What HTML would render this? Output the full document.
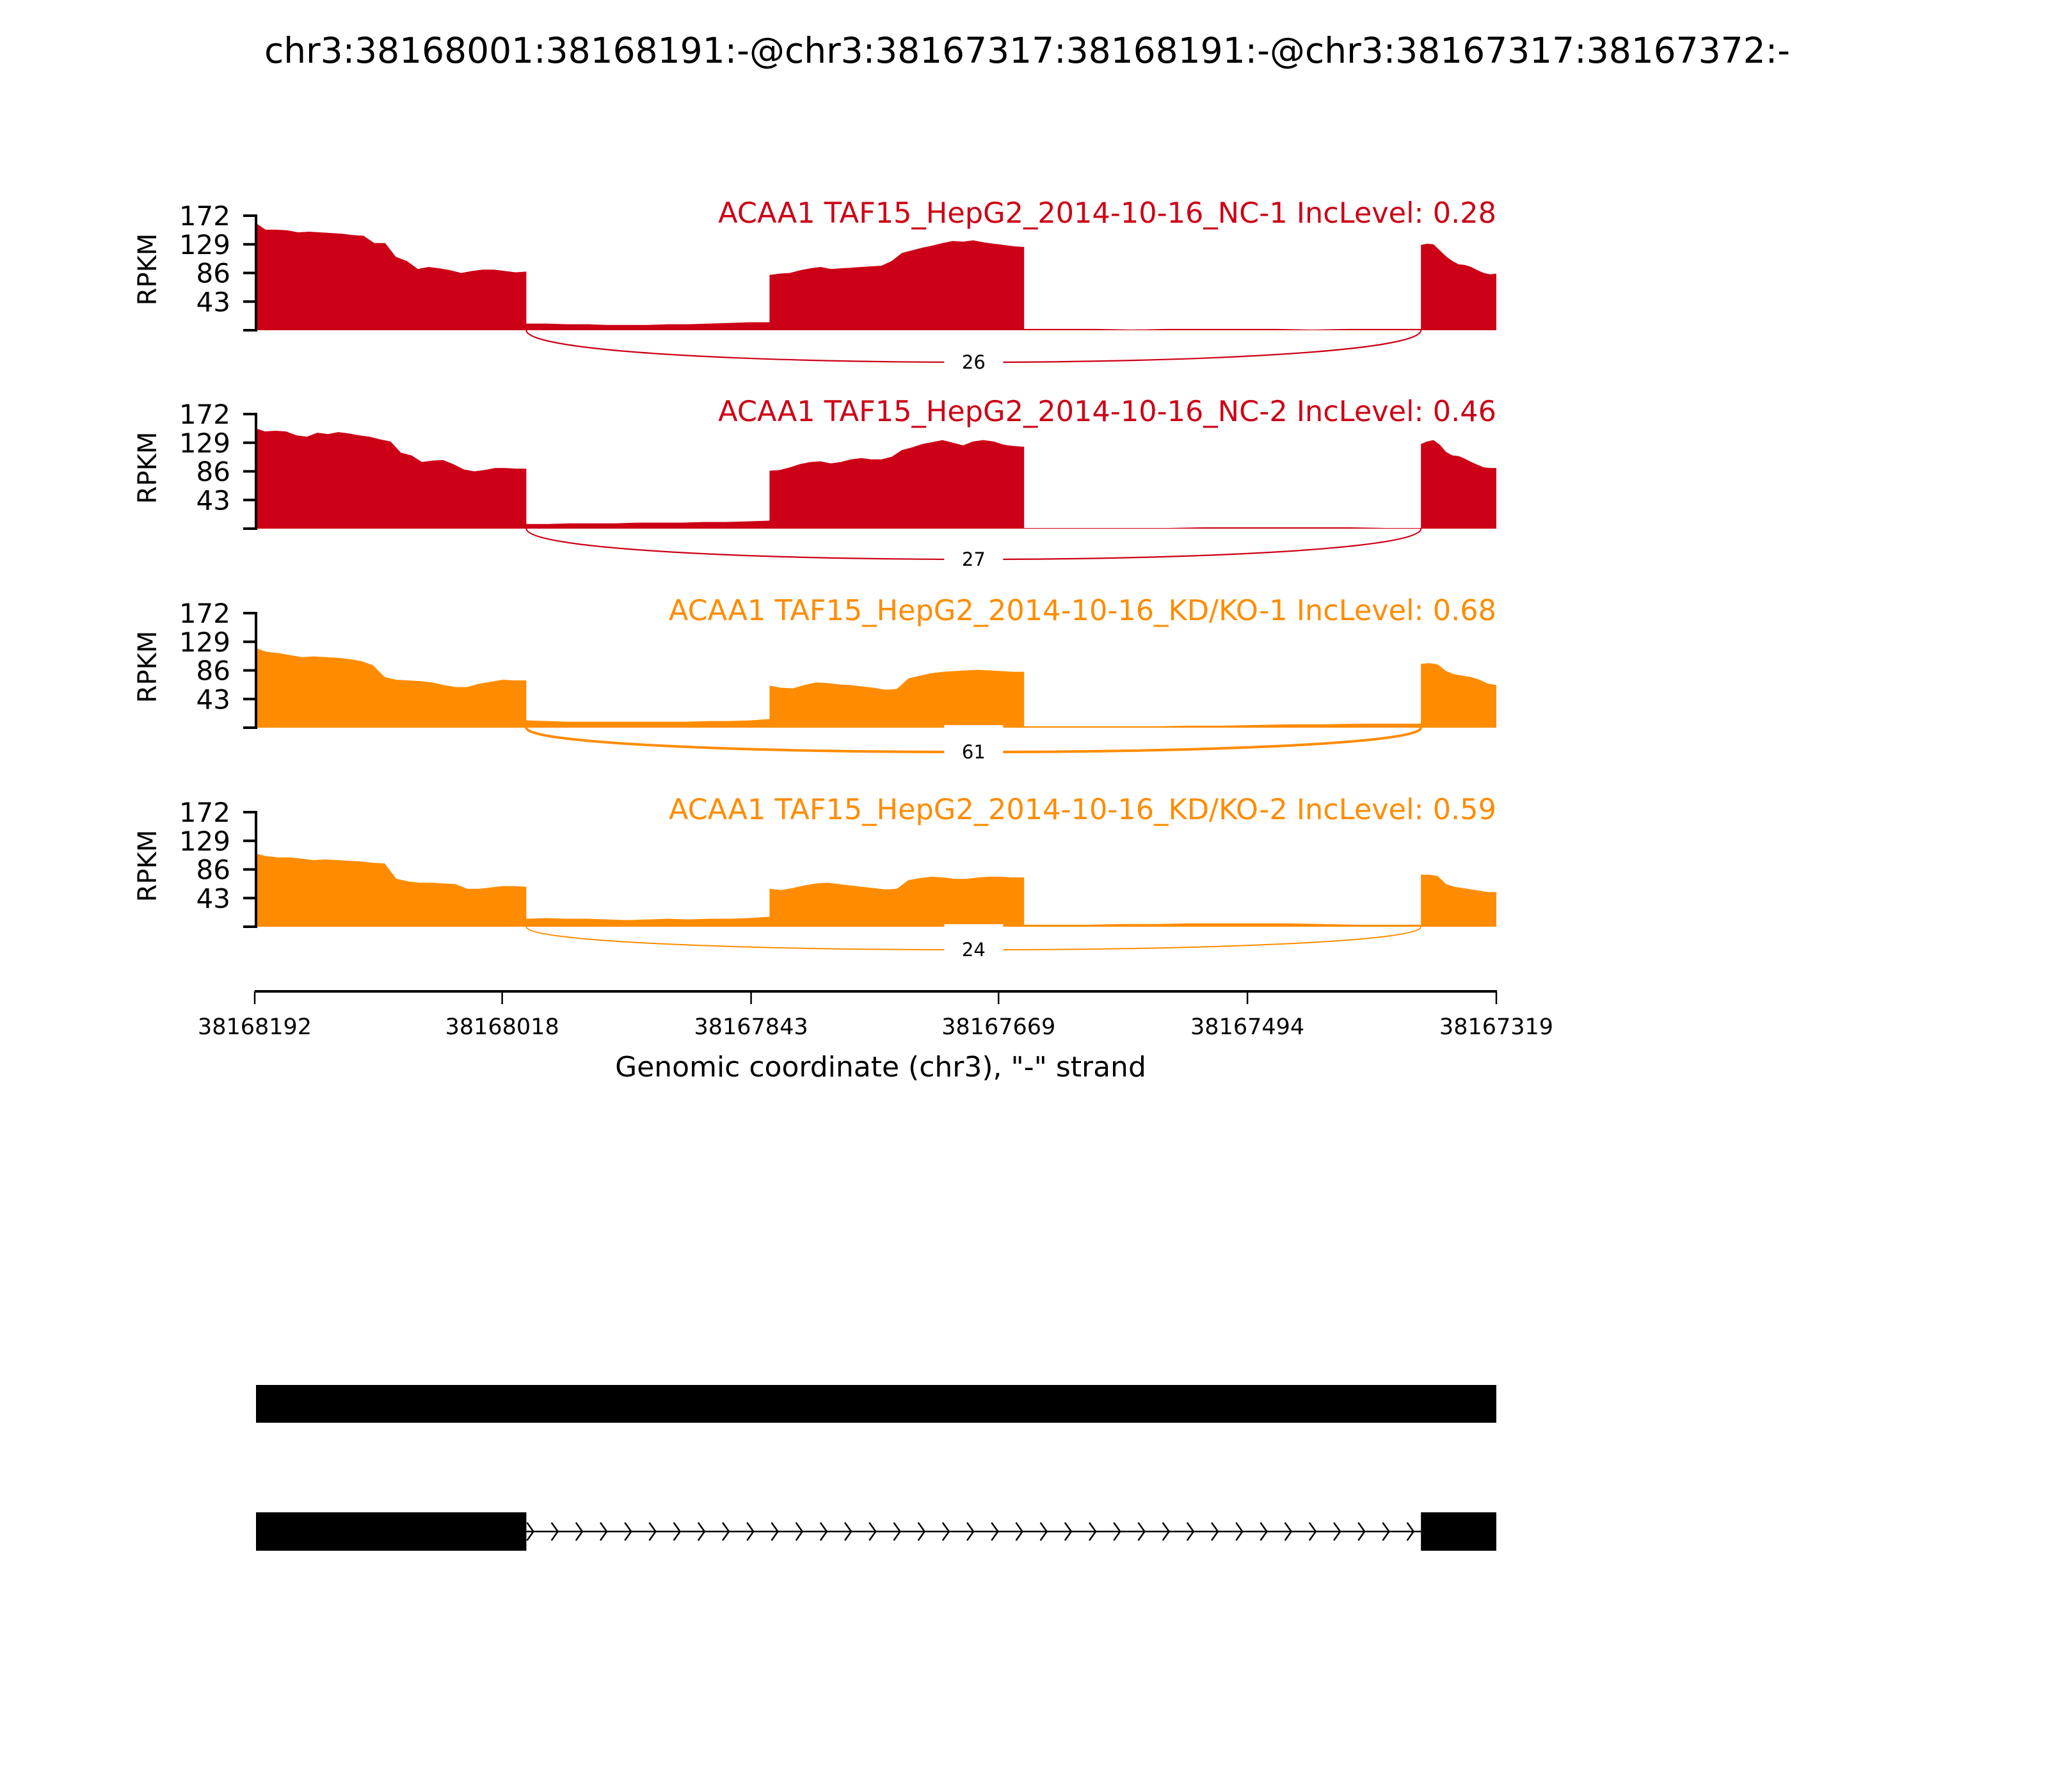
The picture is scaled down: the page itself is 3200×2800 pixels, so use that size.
<!DOCTYPE html>
<html><head><meta charset="utf-8">
<style>
html,body{margin:0;padding:0;background:#fff;}
svg{display:block;font-family:"DejaVu Sans","Liberation Sans",sans-serif;}
</style></head>
<body>
<svg id="chart" width="3200" height="2800" viewBox="0 0 3200 2800" xmlns="http://www.w3.org/2000/svg">
<rect width="3200" height="2800" fill="#fff"/>
<text x="1605" y="98" font-size="55" text-anchor="middle">chr3:38168001:38168191:-@chr3:38167317:38168191:-@chr3:38167317:38167372:-</text>
<g id="panels"></g>
<g id="xaxis"></g>
<g id="genes"></g>
</svg>
<script>
// ---- data ----
const sampleNames = ["ACAA1 TAF15_HepG2_2014-10-16_NC-1 IncLevel: 0.28","ACAA1 TAF15_HepG2_2014-10-16_NC-2 IncLevel: 0.46","ACAA1 TAF15_HepG2_2014-10-16_KD/KO-1 IncLevel: 0.68","ACAA1 TAF15_HepG2_2014-10-16_KD/KO-2 IncLevel: 0.59"];
const sampleColors = ["#CC0016","#CC0016","#FF8C00","#FF8C00"];
const junctionCounts = [26,27,61,24];
const yTicks = [0,43,86,129,172];
const regionBounds = [[38168192,38168001],[38168001,38167830],[38167830,38167651],[38167651,38167372],[38167372,38167319]];
const xTickLabels = [38168192,38168018,38167843,38167669,38167494,38167319];
const junctionStart = 38168001;
const junctionEnd = 38167372;
const cov1 = [
 [162,151,151,150,147,148,147,146,145,143,142,131,131,110,104,92,95,93,90,86,89,91,91,89,87,88],
 [10,10,9,9,8,8,8,9,9,10,11,12,12],
 [83,85,86,90,93,95,92,93,94,95,96,97,104,116,120,124,127,131,134,133,135,132,130,128,126,125],
 [2,2,2,1,2,2,2,2,1,2,2,2],
 [128,130,129,120,111,104,99,98,95,90,86,84,85]];
const cov2 = [
 [151,146,147,146,140,138,144,142,145,143,140,138,134,131,114,110,100,102,103,97,89,86,88,91,91,90,90],
 [7,7,8,8,8,9,9,9,10,10,11,12],
 [87,88,92,97,100,101,98,100,104,106,104,104,108,118,122,127,130,133,129,125,131,133,131,126,124,123],
 [1,1,1,1,1,2,2,2,2,2,1,1],
 [127,131,133,126,115,110,109,105,100,96,92,91,91]];
const cov3 = [
 [120,114,112,109,106,107,106,105,103,100,94,76,72,71,70,68,64,61,61,66,69,72,71,71],
 [11,10,9,9,9,9,9,9,9,10,10,11,13],
 [63,60,59,64,68,67,65,64,62,60,57,58,74,78,82,84,85,86,87,86,85,84,84],
 [2,2,2,2,2,3,3,4,5,5,6,6,6],
 [96,97,95,85,80,78,76,72,66,64]];
const cov4 = [
 [110,106,104,104,102,100,101,100,99,98,96,95,72,68,66,66,65,64,57,57,59,61,61,60],
 [12,13,12,12,11,10,11,12,11,12,12,13,15],
 [57,55,58,62,65,66,64,62,60,58,56,57,70,73,75,74,72,72,74,75,75,74,74],
 [3,3,3,4,4,5,5,5,5,4,3,3,3],
 [78,78,76,64,60,58,56,54,52,52]];
const coverages = [cov1,cov2,cov3,cov4];

// ---- layout ----
const NS="http://www.w3.org/2000/svg";
const X0=398, X1=2338, G0=38168192, G1=38167319;
const xs = g => X0 + (G0-g)*(X1-X0)/(G0-G1);
const baselines=[516,826,1137,1448];
const PH=179, YMAX=172;
const arcDepth=[50,48,38,36];
const arcWidth=[2.2,2.2,4,2];
function mk(tag,attrs,parent){const e=document.createElementNS(NS,tag);for(const k in attrs)e.setAttribute(k,attrs[k]);parent.appendChild(e);return e;}
const panels=document.getElementById('panels');
coverages.forEach((cov,i)=>{
  const b=baselines[i];
  const ys=v=>b - v/YMAX*PH;
  const g=mk('g',{},panels);
  
  
  let pts=[[xs(regionBounds[0][0]),b]];
  cov.forEach((vals,r)=>{
    const a=xs(regionBounds[r][0]), e=xs(regionBounds[r][1]);
    vals.forEach((v,k)=>{pts.push([a+(e-a)*k/(vals.length-1), ys(v)]);});
  });
  pts.push([X1,b]);
  const area=mk('path',{d:'M'+pts.map(p=>p[0].toFixed(1)+','+p[1].toFixed(1)).join('L')+'Z',fill:sampleColors[i]},g);
  
  
  const ax=mk('g',{},g);
  
  
  mk('line',{x1:400,x2:400,y1:ys(YMAX)-2,y2:b+2,stroke:'#000','stroke-width':4},ax);
  yTicks.forEach(t=>{
    mk('line',{x1:380,x2:400,y1:ys(t),y2:ys(t),stroke:'#000','stroke-width':4},ax);
    if(t>0){const tx=mk('text',{x:360,y:ys(t)+15,'font-size':42,'text-anchor':'end'},ax);tx.textContent=t;
      
      }
  });
  const yl=mk('text',{x:0,y:0,'font-size':40,'text-anchor':'middle',transform:`translate(244,${b-95}) rotate(-90)`},ax);
  yl.textContent='RPKM';
  
  
  const tt=mk('text',{x:2338,y:b-168,'font-size':44.6,'text-anchor':'end',fill:sampleColors[i]},g);
  tt.textContent=sampleNames[i];
  
  
  const xa=xs(junctionStart), xb=xs(junctionEnd), d=arcDepth[i]*4/3;
  const arc=mk('path',{d:`M${xa},${b}C${xa},${b+d} ${xb},${b+d} ${xb},${b}`,fill:'none',stroke:sampleColors[i],'stroke-width':arcWidth[i]},g);
  
  
  const mid=(xa+xb)/2;
  const bg=mk('rect',{x:mid-46,y:b+arcDepth[i]-20,width:92,height:40,fill:'#fff'},g);
  
  
  if(i>=2){const nb=mk('rect',{x:mid-46,y:b-4,width:92,height:6,fill:'#fff'},g);
    
    }
  const jl=mk('text',{x:mid,y:b+arcDepth[i]+10,'font-size':29,'text-anchor':'middle'},g);
  jl.textContent=junctionCounts[i];
  
  
});
// x axis
const xaG=document.getElementById('xaxis');
const AXY=1549;
mk('line',{x1:X0,x2:X1+1,y1:AXY,y2:AXY,stroke:'#000','stroke-width':4},xaG);
xTickLabels.forEach(t=>{
  const x=xs(t);
  mk('line',{x1:x,x2:x,y1:AXY,y2:AXY+20,stroke:'#000','stroke-width':2.5},xaG);
  const tx=mk('text',{x:x,y:AXY+67,'font-size':35,'text-anchor':'middle'},xaG);
  tx.textContent=t;
  
  
});
const xt=mk('text',{x:1376,y:1682,'font-size':44,'text-anchor':'middle'},xaG);
xt.textContent='Genomic coordinate (chr3), "-" strand';


// gene models
const gG=document.getElementById('genes');
function r(x,y,w,h,name){const e=mk('rect',{x:x,y:y,width:w,height:h,fill:'#000'},gG);
  
  }
r(400,2164,1938,59,'transcript-1-exon');
const e1=xs(38168001), e3=xs(38167372);
r(400,2363,e1-400,60,'transcript-2-exon-1');
r(e3,2363,X1-e3,60,'transcript-2-exon-2');
const ln=mk('line',{x1:e1,x2:e3,y1:2393,y2:2393,stroke:'#000','stroke-width':2.5},gG);


let cd='';
for(let x=e1+6;x<e3;x+=38.2){cd+=`M${x-5},2379L${x+5},2393L${x-5},2407`;}
const ch=mk('path',{d:cd,fill:'none',stroke:'#000','stroke-width':2.5},gG);


</script>
</body></html>
